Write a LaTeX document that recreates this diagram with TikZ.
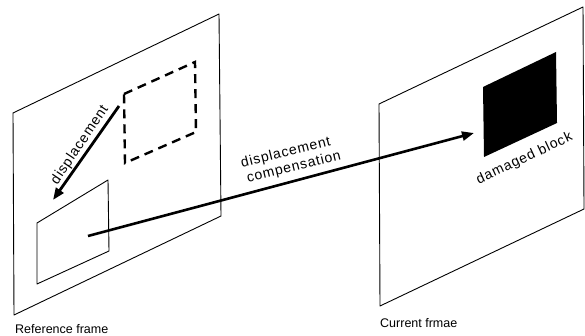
\documentclass[tikz,border=0pt]{standalone}
\usepackage{fontspec}
\setmainfont{Liberation Sans}
\newfontfamily\widesans[LetterSpace=6]{Liberation Sans}
\usetikzlibrary{arrows.meta}
\begin{document}
\begin{tikzpicture}[x=1pt,y=-1pt,
  framepl/.style={line width=0.9pt, line join=round},
  blockpl/.style={line width=0.9pt, line join=round},
  dashblock/.style={line width=2.4pt, dash pattern=on 9pt off 6pt},
  fatarrow/.style={line width=2.8pt, -{Triangle[length=12pt,width=9pt]}},
  lbl/.style={inner sep=0pt, font=\fontsize{12.5}{14}\selectfont},
  rotlbl/.style={inner sep=0pt, font=\widesans\fontsize{14}{16}\selectfont}]
\useasboundingbox (0,0) rectangle (585,336);

% reference frame and its two blocks
\draw[framepl] (13,113) -- (219,14) -- (221,216) -- (14,315) -- cycle;
\draw[dashblock] (124,94) -- (195,62) -- (196,132) -- (125,163) -- cycle;
\draw[blockpl] (37,223) -- (108,180) -- (109,251) -- (37,284) -- cycle;

% current frame with the damaged block
\draw[framepl] (379,104) -- (583,7) -- (584,209) -- (380,306) -- cycle;
\fill (483,87) -- (556,52) -- (557,123) -- (484,157) -- cycle;

% connector end points
\coordinate (dispfrom) at (119,106);
\coordinate (dispto) at (53,200);
\coordinate (compfrom) at (88,236);
\coordinate (compto) at (474,133);

\draw[fatarrow] (dispfrom) -- (dispto);
\draw[fatarrow, line width=2.6pt] (compfrom) -- (compto);

% labels
\node[rotlbl, rotate=56] (displbl) at (80,145) {displacement};
\node[rotlbl, rotate=14, align=left] (complbl) at (291,160)
  {displacement\\\hspace*{2pt}compensation};
\node[rotlbl, rotate=25, anchor=base] (dmglbl) at (526,162) {damaged block};
\node[lbl, anchor=base west] (reflbl) at (15,333) {Reference frame};
\node[lbl, anchor=base west] (curlbl) at (380,327) {Current frmae};
\end{tikzpicture}
\end{document}
